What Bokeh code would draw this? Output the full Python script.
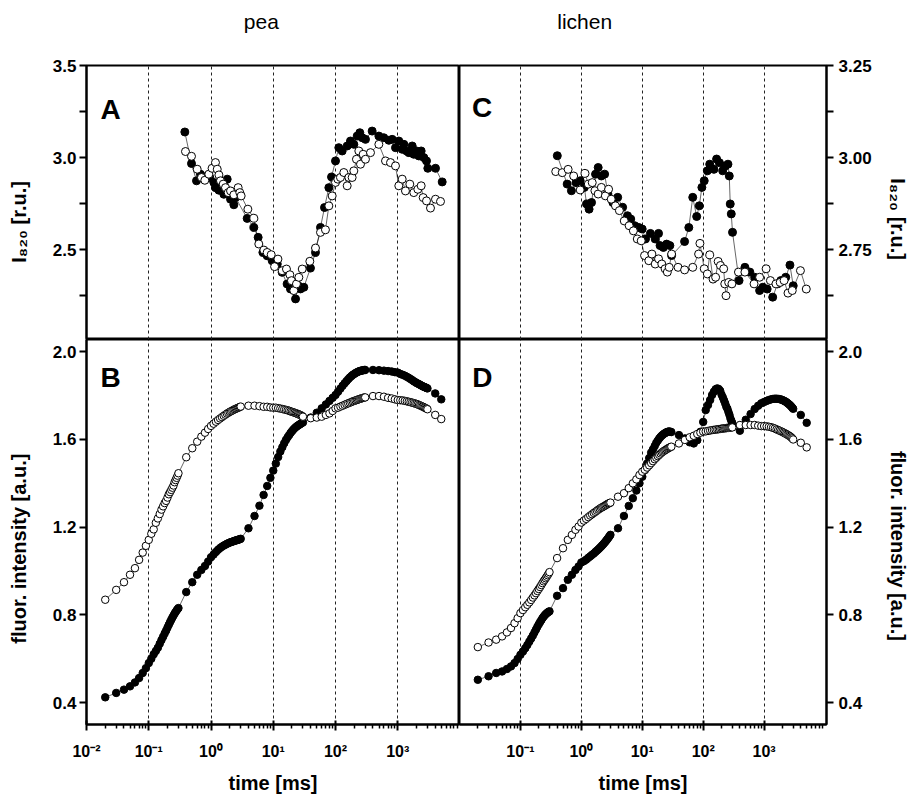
import math
from bokeh.plotting import figure
from bokeh.layouts import gridplot
from bokeh.models import (FixedTicker, CustomJSTickFormatter, NumeralTickFormatter, Label,
                          Range1d, LogAxis)
from bokeh.embed import file_html
from bokeh.resources import INLINE

FONT = "Liberation Sans"

# ---------------- top panels: I820 [r.u.] ----------------
# A (pea) - filled
TA_f = [0.380,0.486,0.585,0.677,0.796,0.957,1.11,1.18,1.34,1.42,1.61,1.82,1.94,2.06,2.33,
        2.48,3.81,4.88,5.72,6.81,7.98,9.61,11.6,13.9,16.7,18.9,22.8,25.1,27.4,31.0,
        39.6,47.7,57.4,66.6,78.2,86.3,100,113,128,154,174,197,223,246,268,303,388,497,
        597,719,813,920,1040,1178,1253,1383,1507,1706,1811,2000,2183,2377,2624,2897,3041,4039,5176]
VA_f = [3.139,2.968,2.874,2.910,2.895,2.892,2.865,2.837,2.823,2.856,2.801,2.883,2.819,2.774,2.744,
        2.783,2.670,2.621,2.567,2.485,2.467,2.440,2.422,2.377,2.314,2.287,2.233,2.305,2.287,2.296,
        2.400,2.485,2.621,2.729,2.837,2.895,2.982,3.054,3.036,3.063,3.090,3.072,3.117,3.135,3.108,
        3.099,3.144,3.117,3.108,3.094,3.099,3.054,3.090,3.045,3.072,3.036,3.027,3.063,3.018,3.036,
        3.009,3.036,3.000,2.982,2.942,2.942,2.868]
# A (pea) - open
TA_o = [0.389,0.486,0.600,0.703,0.796,0.923,1.04,1.18,1.26,1.34,1.42,1.57,1.71,1.89,2.06,
        2.33,2.73,2.90,3.05,3.91,4.88,5.86,7.06,7.98,9.27,10.5,11.9,13.9,16.3,18.5,
        19.6,21.4,23.6,25.8,29.2,38.7,47.7,57.4,69.0,78.2,88.4,100,109,120,136,
        154,164,185,197,217,237,252,278,303,365,497,636,765,920,1040,
        1178,1331,1563,1811,2103,2377,2559,2897,3357,4039,4864]
VA_o = [3.033,3.007,2.937,2.892,2.877,2.910,2.942,2.973,2.937,2.906,2.874,2.856,2.837,2.810,2.819,
        2.798,2.837,2.810,2.792,2.720,2.671,2.531,2.498,2.485,2.473,2.408,2.449,2.386,2.395,2.364,
        2.332,2.278,2.314,2.350,2.395,2.437,2.509,2.594,2.608,2.738,2.792,2.865,2.883,2.892,2.919,
        2.847,2.892,2.892,2.928,2.991,3.036,2.964,3.018,2.991,3.027,3.072,2.982,2.973,2.955,2.847,
        2.883,2.819,2.856,2.810,2.828,2.847,2.783,2.765,2.726,2.774,2.762]
# C (lichen) - filled
TC_f = [0.403,0.585,0.687,0.817,0.957,1.12,1.22,1.34,1.47,1.71,1.89,2.13,2.41,2.73,3.29,
        3.95,4.76,5.72,6.47,7.51,8.81,9.97,11.3,13.6,16.3,18.5,19.6,22.2,25.1,28.4,
        30.3,49.5,58.1,67.4,78.2,86.3,95.2,104,117,128,150,166,185,209,231,
        255,268,278,289,303,388,484,583,701,844,955,1122,1383,1663,1879,2264,2655,3006]
VC_f = [3.005,2.928,2.910,2.932,2.937,2.919,2.874,2.860,2.878,2.955,2.973,2.950,2.955,2.901,2.878,
        2.892,2.865,2.842,2.833,2.815,2.810,2.806,2.779,2.794,2.779,2.794,2.761,2.756,2.765,2.761,
        2.734,2.772,2.810,2.892,2.840,2.869,2.919,2.937,2.964,2.982,2.968,2.996,2.986,2.964,2.977,
        2.982,2.950,2.874,2.847,2.797,2.666,2.702,2.689,2.675,2.639,2.648,2.643,2.621,2.657,2.666,
        2.675,2.708,2.652]
# C (lichen) - open
TC_o = [0.380,0.486,0.607,0.748,0.957,1.15,1.30,1.51,1.67,1.89,2.13,2.48,2.80,3.09,3.63,
        4.21,5.06,6.09,7.15,8.28,9.61,10.9,12.8,14.4,16.3,18.5,20.9,23.7,25.8,27.7,
        30.3,38.7,49.5,67.4,84.1,88.4,104,117,128,145,160,176,192,217,226,
        237,262,296,379,484,684,844,1079,1268,1563,1836,2128,2466,2897,3945,4920]
VC_o = [2.962,2.959,2.968,2.950,2.912,2.957,2.928,2.932,2.910,2.901,2.919,2.896,2.914,2.887,2.869,
        2.856,2.828,2.815,2.801,2.779,2.774,2.734,2.720,2.738,2.711,2.725,2.711,2.698,2.689,2.702,
        2.738,2.702,2.695,2.702,2.738,2.767,2.698,2.684,2.736,2.670,2.675,2.718,2.707,2.698,2.657,
        2.625,2.661,2.657,2.689,2.689,2.657,2.675,2.698,2.666,2.657,2.661,2.666,2.632,2.639,2.693,2.643]

# ---------------- bottom panels: fluorescence [a.u.] ----------------
T_F = [0.02,0.03,0.04,0.05,0.06,0.07,0.08,0.09,0.10,
       0.11,0.12,0.13,0.14,0.15,0.16,0.17,0.18,0.19,0.20,0.21,0.22,0.23,0.24,0.25,0.26,0.27,0.28,0.29,0.30,
       0.4,0.5,0.6,0.7,0.8,0.9,1.0,
       1.1,1.2,1.3,1.4,1.5,1.6,1.7,1.8,1.9,2.0,2.1,2.2,2.3,2.4,2.5,2.6,2.7,2.8,2.9,3.0,
       4,5,6,7,8,9,10,
       11,12,13,14,15,16,17,18,19,20,21,22,23,24,25,26,27,28,29,30,
       40,50,60,70,80,90,100,
       110,120,130,140,150,160,170,180,190,200,210,220,230,240,250,260,270,280,290,300,
       400,500,600,700,800,900,1000,
       1100,1200,1300,1400,1500,1600,1700,1800,1900,2000,2100,2200,2300,2400,2500,2600,2700,2800,2900,3000,
       4000,5000]
VB_o = [0.869,0.914,0.949,0.983,1.013,1.051,1.084,1.115,1.142,
        1.17,1.19,1.22,1.24,1.26,1.28,1.295,1.31,1.32,1.335,1.35,1.36,1.37,1.38,1.39,1.405,1.415,1.425,1.435,1.446,
        1.519,1.560,1.590,1.613,1.631,1.648,1.662,
        1.672,1.681,1.689,1.696,1.702,1.708,1.713,1.718,1.722,1.726,1.729,1.732,1.735,1.738,1.740,1.742,1.744,1.746,1.748,1.750,
        1.754,1.754,1.752,1.749,1.749,1.746,1.745,
        1.745,1.743,1.741,1.739,1.737,1.735,1.733,1.731,1.728,1.726,1.724,1.722,1.720,1.718,1.716,1.714,1.712,1.710,1.707,1.704,
        1.697,1.700,1.704,1.712,1.719,1.730,1.742,
        1.745,1.750,1.754,1.758,1.762,1.765,1.768,1.771,1.774,1.776,1.778,1.780,1.782,1.784,1.786,1.787,1.789,1.790,1.791,1.792,
        1.798,1.798,1.795,1.790,1.787,1.783,1.780,
        1.779,1.778,1.776,1.774,1.772,1.770,1.768,1.766,1.764,1.762,1.760,1.757,1.755,1.752,1.750,1.748,1.745,1.743,1.741,1.738,
        1.712,1.693]
VB_f = [0.424,0.444,0.459,0.474,0.492,0.512,0.535,0.557,0.580,
        0.60,0.62,0.635,0.65,0.668,0.685,0.70,0.715,0.728,0.742,0.755,0.767,0.778,0.788,0.797,0.806,0.813,0.82,0.826,0.831,
        0.904,0.949,0.983,1.005,1.023,1.043,1.063,
        1.075,1.087,1.097,1.105,1.111,1.116,1.120,1.124,1.127,1.130,1.132,1.134,1.136,1.138,1.139,1.141,1.142,1.144,1.145,1.147,
        1.195,1.251,1.298,1.347,1.388,1.425,1.458,
        1.49,1.52,1.545,1.565,1.583,1.598,1.61,1.62,1.63,1.638,1.645,1.651,1.656,1.66,1.664,1.667,1.67,1.673,1.676,1.678,
        1.700,1.722,1.742,1.760,1.776,1.790,1.803,
        1.818,1.832,1.845,1.856,1.866,1.875,1.883,1.889,1.895,1.899,1.903,1.906,1.909,1.911,1.913,1.914,1.915,1.916,1.917,1.917,
        1.917,1.916,1.914,1.912,1.910,1.907,1.905,
        1.899,1.895,1.891,1.886,1.881,1.876,1.871,1.866,1.862,1.858,1.855,1.852,1.849,1.846,1.843,1.841,1.839,1.837,1.835,1.833,
        1.810,1.783]
VD_o = [0.653,0.674,0.687,0.702,0.720,0.740,0.762,0.785,0.808,
        0.822,0.835,0.846,0.857,0.868,0.879,0.889,0.899,0.909,0.918,0.927,0.936,0.945,0.953,0.960,0.967,0.974,0.981,0.988,0.995,
        1.059,1.104,1.142,1.165,1.188,1.203,1.221,
        1.230,1.238,1.246,1.253,1.259,1.265,1.270,1.275,1.280,1.284,1.288,1.291,1.294,1.297,1.300,1.303,1.306,1.308,1.310,1.312,
        1.339,1.355,1.378,1.400,1.418,1.438,1.453,
        1.462,1.472,1.482,1.492,1.501,1.510,1.517,1.524,1.530,1.536,1.541,1.545,1.549,1.552,1.555,1.558,1.561,1.563,1.565,1.567,
        1.582,1.598,1.610,1.617,1.625,1.631,1.636,
        1.637,1.639,1.641,1.643,1.644,1.645,1.646,1.647,1.648,1.649,1.650,1.651,1.651,1.652,1.653,1.653,1.654,1.654,1.655,1.655,
        1.666,1.666,1.666,1.666,1.663,1.661,1.661,
        1.660,1.658,1.656,1.653,1.650,1.646,1.643,1.640,1.637,1.634,1.631,1.628,1.625,1.622,1.619,1.616,1.613,1.609,1.605,1.600,
        1.585,1.564]
VD_f = [0.504,0.520,0.535,0.542,0.553,0.565,0.580,0.599,0.618,
        0.633,0.648,0.663,0.678,0.692,0.706,0.720,0.733,0.746,0.757,0.767,0.776,0.785,0.792,0.798,0.803,0.807,0.811,0.814,0.816,
        0.887,0.922,0.960,0.983,1.005,1.021,1.039,
        1.045,1.052,1.060,1.067,1.074,1.080,1.087,1.093,1.099,1.105,1.111,1.117,1.123,1.129,1.135,1.141,1.147,1.153,1.159,1.165,
        1.195,1.251,1.297,1.332,1.367,1.400,1.430,
        1.46,1.49,1.515,1.54,1.555,1.57,1.585,1.595,1.605,1.612,1.618,1.623,1.627,1.630,1.633,1.635,1.636,1.636,1.635,1.634,
        1.620,1.605,1.587,1.582,1.597,1.635,1.680,
        1.734,1.757,1.780,1.803,1.818,1.829,1.833,1.830,1.822,1.805,1.792,1.778,1.764,1.749,1.740,1.725,1.712,1.696,1.685,1.675,
        1.640,1.690,1.716,1.739,1.754,1.765,1.771,
        1.776,1.780,1.783,1.785,1.786,1.786,1.785,1.784,1.782,1.780,1.777,1.774,1.771,1.767,1.763,1.759,1.755,1.750,1.745,1.740,
        1.712,1.676]

TOP_LEFT_TICKS = [2.5, 3.0, 3.5]
TOP_LEFT_MINOR = [2.25, 2.75, 3.25]
TOP_RIGHT_TICKS = [2.75, 3.00, 3.25]
TOP_RIGHT_MINOR = [2.625, 2.875, 3.125]
BOTTOM_TICKS = [0.4, 0.8, 1.2, 1.6, 2.0]
DECADES = [0.01, 0.1, 1, 10, 100, 1000]
GRID_DECADES = [0.1, 1, 10, 100, 1000]

for a, b in [(TA_f, VA_f), (TA_o, VA_o), (TC_f, VC_f), (TC_o, VC_o),
             (T_F, VB_o), (T_F, VB_f), (T_F, VD_o), (T_F, VD_f)]:
    assert len(a) == len(b), (len(a), len(b))

# ---------------- layout ----------------
DEC_PX = 62.25                   # pixels per decade
FW_L, FW_R = 373, 375            # frame widths
FH_T, FH_B = 274, 386            # frame heights
BL, BR, BT, BB = 86, 78, 65, 71  # outer borders
NB = "\u00a0"

minor_x = [m * d for d in [0.01, 0.1, 1, 10, 100, 1000] for m in range(2, 10)]

sup_js = """
const sup = {"-":"\u207b","0":"\u2070","1":"\u00b9","2":"\u00b2","3":"\u00b3","4":"\u2074",
             "5":"\u2075","6":"\u2076","7":"\u2077","8":"\u2078","9":"\u2079"};
const e = Math.round(Math.log10(tick));
return "10" + String(e).split("").map(c => sup[c]).join("");
"""


def make_fig(fw, fh, yr, yloc, xaxis, borders):
    l, r, t, b = borders
    x1 = 10 ** (fw / DEC_PX - 2)
    p = figure(width=fw + l + r, height=fh + t + b, x_axis_type="log",
               x_range=Range1d(0.01, x1), y_range=Range1d(*yr),
               y_axis_location=yloc, x_axis_location="below" if xaxis else None,
               output_backend="svg", toolbar_location=None,
               min_border_left=l, min_border_right=r, min_border_top=t, min_border_bottom=b)
    p.outline_line_color = "black"
    p.outline_line_width = 2
    p.outline_line_alpha = 1
    p.background_fill_color = "white"
    p.border_fill_color = "white"
    p.ygrid.visible = False
    p.xgrid.ticker = FixedTicker(ticks=GRID_DECADES)
    p.xgrid.grid_line_color = "#222222"
    p.xgrid.grid_line_dash = "3 3"
    p.xgrid.grid_line_width = 1
    for ax in p.yaxis:
        ax.axis_line_width = 2
        ax.major_tick_line_width = 2
        ax.minor_tick_line_width = 2
        ax.major_tick_out = 7
        ax.major_tick_in = 0
        ax.minor_tick_out = 7
        ax.minor_tick_in = 0
        ax.major_label_text_font = FONT
        ax.major_label_text_font_style = "bold"
        ax.major_label_text_font_size = "17px"
        ax.major_label_text_color = "black"
        ax.major_label_standoff = 3
        ax.axis_label_text_font = FONT
        ax.axis_label_text_font_style = "bold"
        ax.axis_label_text_font_size = "20px"
        ax.axis_label_text_color = "black"
    if xaxis:
        for ax in p.xaxis:
            ax.axis_line_width = 2
            ax.major_tick_line_width = 2
            ax.minor_tick_line_width = 1.5
            ax.major_tick_out = 6
            ax.major_tick_in = 4
            ax.minor_tick_out = 4
            ax.minor_tick_in = 0
            ax.major_label_text_font = FONT
            ax.major_label_text_font_style = "bold"
            ax.major_label_text_font_size = "16px"
            ax.major_label_text_color = "black"
            ax.major_label_standoff = 12
            ax.formatter = CustomJSTickFormatter(code=sup_js)
            ax.axis_label = "time [ms]"
            ax.axis_label_text_font = FONT
            ax.axis_label_text_font_style = "bold"
            ax.axis_label_text_font_size = "20px"
            ax.axis_label_text_color = "black"
            ax.axis_label_standoff = 9
    return p


def draw(p, t, v, filled, size):
    p.line(t, v, line_color="black", line_width=0.6)
    p.scatter(t, v, marker="circle", size=size,
              fill_color="black" if filled else "white",
              line_color="black", line_width=1)


def letter(p, text, x, y):
    p.add_layout(Label(x=x, y=y, text=text, text_font=FONT, text_font_style="bold",
                       text_font_size="28px", text_color="black", text_baseline="alphabetic"))


def heading(p, text):
    ax = LogAxis(ticker=FixedTicker(ticks=[]), axis_line_color=None,
                 major_tick_line_color=None, minor_tick_line_color=None,
                 major_tick_out=0, major_tick_in=0, minor_tick_out=0, minor_tick_in=0,
                 major_label_text_font_size="0px", axis_label=text,
                 axis_label_standoff=33, axis_label_text_font=FONT,
                 axis_label_text_font_style="normal", axis_label_text_font_size="21px",
                 axis_label_text_color="black")
    p.add_layout(ax, "above")


# A
pA = make_fig(FW_L, FH_T, (2.0125, 3.5), "left", False, (BL, 0, BT, 0))
pA.yaxis.ticker = FixedTicker(ticks=TOP_LEFT_TICKS, minor_ticks=TOP_LEFT_MINOR)
pA.yaxis.formatter = NumeralTickFormatter(format="0.0")
pA.yaxis.axis_label = "I\u2088\u2082\u2080 [r.u.]" + NB * 7
pA.yaxis.axis_label_standoff = 20
draw(pA, TA_f, VA_f, True, 8)
draw(pA, TA_o, VA_o, False, 8)
letter(pA, "A", 0.0168, 3.263)
heading(pA, "pea" + NB * 4)

# C
pC = make_fig(FW_R, FH_T, (2.506, 3.25), "right", False, (0, BR, BT, 0))
pC.yaxis.ticker = FixedTicker(ticks=TOP_RIGHT_TICKS, minor_ticks=TOP_RIGHT_MINOR)
pC.yaxis.formatter = NumeralTickFormatter(format="0.00")
pC.yaxis.major_label_standoff = 5
pC.yaxis.axis_label = NB * 6 + "I\u2088\u2082\u2080 [r.u.]"
pC.yaxis.axis_label_standoff = 12
draw(pC, TC_f, VC_f, True, 8)
draw(pC, TC_o, VC_o, False, 8)
letter(pC, "C", 0.016, 3.135)
heading(pC, "lichen" + NB * 20)

# B
pB = make_fig(FW_L, FH_B, (0.30, 2.056), "left", True, (BL, 0, 0, BB))
pB.yaxis.ticker = FixedTicker(ticks=BOTTOM_TICKS)
pB.yaxis.formatter = NumeralTickFormatter(format="0.0")
pB.yaxis.axis_label = "fluor. intensity [a.u.]" + NB * 6
pB.yaxis.axis_label_standoff = 20
pB.xaxis.ticker = FixedTicker(ticks=DECADES, minor_ticks=minor_x)
draw(pB, T_F, VB_f, True, 7.5)
draw(pB, T_F, VB_o, False, 7.5)
letter(pB, "B", 0.0168, 1.883)

# D
pD = make_fig(FW_R, FH_B, (0.30, 2.056), "right", True, (0, BR, 0, BB))
pD.yaxis.ticker = FixedTicker(ticks=BOTTOM_TICKS)
pD.yaxis.formatter = NumeralTickFormatter(format="0.0")
pD.yaxis.major_label_standoff = 5
pD.yaxis.axis_label = NB * 5 + "fluor. intensity [a.u.]"
pD.yaxis.axis_label_standoff = 22
pD.xaxis.ticker = FixedTicker(ticks=DECADES[1:], minor_ticks=minor_x)
draw(pD, T_F, VD_f, True, 7.5)
draw(pD, T_F, VD_o, False, 7.5)
letter(pD, "D", 0.0162, 1.881)

grid = gridplot([[pA, pC], [pB, pD]], toolbar_location=None)

with open("out.html", "w", encoding="utf-8") as f:
    f.write(file_html(grid, INLINE))
